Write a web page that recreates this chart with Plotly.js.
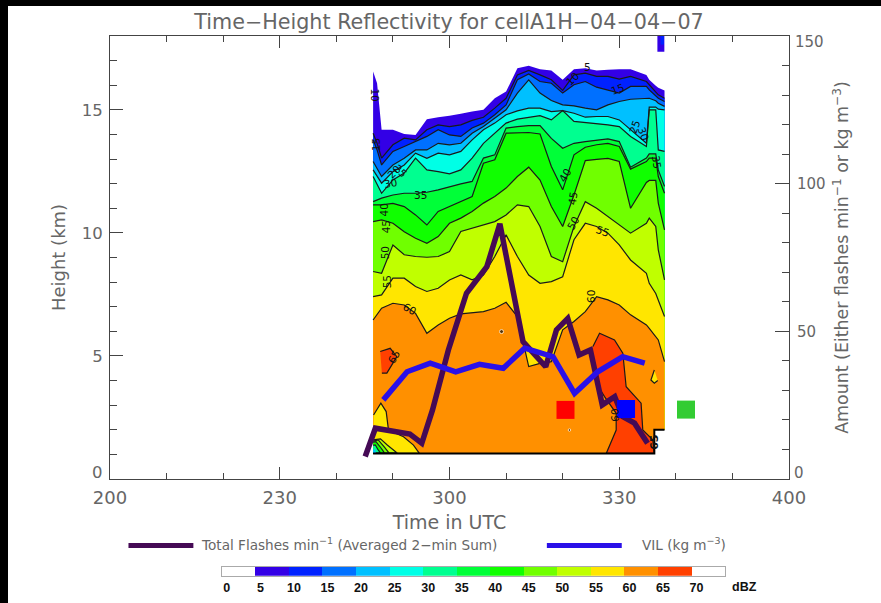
<!DOCTYPE html>
<html>
<head>
<meta charset="utf-8">
<script src="https://cdn.plot.ly/plotly-3.0.1.min.js"></script>
<style>
html,body{margin:0;padding:0;background:#fff;overflow:hidden}
#chart{position:absolute;left:0;top:0;width:881px;height:603px}
.strip{position:absolute;background:#000;z-index:5}
</style>
</head>
<body>
<div id="chart"></div>
<div class="strip" style="left:0;top:0;width:881px;height:5.5px"></div>
<div class="strip" style="left:0;top:0;width:8px;height:603px"></div>
<script>
// Time axis: minutes after 2:00 UTC
const xTickVals = [0, 30, 60, 90, 120];
const xTickText = ['200', '230', '300', '330', '400'];
const leftTickVals = [5, 10, 15];
const rightTickVals = [50, 100];

// Contour heights (km) of each reflectivity level at each scan time
const scanTimes = [46.5,47.2,48,50,52,54,56,58,60,62,64,66,68,70,72,74,76,78,80,82,84,86,88,90,92,94.8,95.3,96.45,96.9,98];
const dbz5  = [16.56,16.08,14.19,14.19,14.02,13.98,14.62,14.70,14.76,14.84,14.93,15.00,15.47,15.74,16.69,16.79,16.65,16.60,16.22,16.65,16.69,16.60,16.63,16.65,16.65,16.42,16.22,15.98,15.90,15.79];
const dbz10 = [14.05,13.64,13.04,13.58,13.85,13.78,14.19,14.39,14.32,14.39,14.57,14.70,15.07,15.47,16.42,16.60,16.42,16.22,15.79,16.42,16.49,16.36,16.36,16.25,16.36,16.15,16.02,15.70,15.61,15.47];
const dbz15 = [13.78,13.37,12.76,13.31,13.51,13.71,13.92,14.19,13.98,13.92,14.26,14.46,14.80,15.20,16.22,16.46,16.15,16.08,15.68,16.02,16.15,15.92,15.81,15.68,15.95,15.95,15.81,15.57,15.47,15.34];
const dbz20 = [12.90,12.63,12.29,12.76,13.03,13.37,13.37,13.64,13.58,13.64,14.05,14.32,14.66,15.00,15.68,16.22,15.68,15.38,15.20,15.16,15.07,15.00,15.20,15.34,15.43,15.47,15.47,15.37,15.27,15.14];
const dbz25 = [12.56,12.29,12.02,12.49,12.76,13.24,13.03,13.24,13.17,13.31,13.78,14.19,14.46,14.80,14.96,15.07,15.07,14.93,14.97,14.86,14.70,14.73,14.73,14.59,14.19,13.64,15.11,15.11,15.03,15.00];
const dbz30 = [12.29,11.95,11.61,12.15,12.43,13.04,12.56,12.49,12.40,12.56,13.04,13.64,14.05,14.46,14.62,14.70,14.76,14.59,14.97,14.53,14.49,14.46,14.39,14.32,13.92,13.51,15.00,15.00,13.37,13.31];
const dbz35 = [11.27,11.34,11.41,11.54,11.61,11.61,11.65,11.75,11.88,11.99,12.09,13.04,13.17,14.26,14.32,14.36,14.36,13.84,13.44,13.64,13.71,13.78,13.82,13.71,12.67,13.04,13.21,13.21,12.56,11.89];
const dbz40 = [11.14,11.14,11.14,11.20,11.07,10.73,10.32,10.87,11.07,11.27,11.48,12.83,12.97,14.05,14.08,14.08,14.02,12.70,11.75,13.17,13.48,13.58,13.64,13.51,12.59,12.90,13.04,13.04,12.29,11.61];
const dbz45 = [10.46,10.50,10.53,10.39,10.05,9.78,9.58,9.85,10.39,10.60,10.87,11.21,11.48,11.82,12.29,12.67,12.15,11.07,10.26,11.54,12.94,12.99,13.03,12.90,11.00,12.05,12.13,12.13,11.21,10.12];
const dbz50 = [8.43,8.40,8.36,9.51,9.11,9.04,9.01,9.04,9.24,10.06,10.19,10.33,10.46,10.73,11.14,11.07,10.26,9.04,8.83,10.26,11.27,11.00,10.66,10.33,9.99,10.39,10.60,10.26,9.31,8.09];
const dbz55 = [7.41,7.45,7.48,8.16,8.16,7.82,7.62,7.75,8.09,8.29,8.09,8.29,9.04,9.92,9.04,8.29,7.95,8.02,8.22,9.72,10.39,10.26,9.99,9.51,8.90,8.36,7.95,7.54,7.28,6.60];
const dbz60 = [6.46,6.71,6.94,7.14,7.07,6.73,5.92,6.26,6.53,6.71,6.76,6.80,6.94,7.18,6.60,4.57,4.70,4.77,6.06,6.40,6.80,7.41,7.28,7.07,6.67,6.26,6.12,5.79,5.65,4.77];

// Echo base, right to left
const baseTimes = [98, 96.2, 96.2, 46.5];
const baseHeights = [2.0, 2.0, 1.04, 1.04];

// Closed contours (time, height)
const core65Times = [85.35,86.52,89.16,90.63,91.22,93.86,94.16,95.92,96.21,87.70,89.46,89.46,87.40,85.93,85.05];
const core65Heights = [5.38,5.92,5.65,5.11,3.75,3.08,1.99,1.59,1.04,1.04,1.99,2.67,3.35,3.89,5.11];
const blob65Times = [47.75,49.52,50.69,48.93,48.05];
const blob65Heights = [5.18,5.31,4.97,4.30,4.30];
const drop55Times = [96.2,95.6,96.2,96.8];
const drop55Heights = [4.43,4.02,3.89,4.00];
const low55Times = [46.58,47.87,48.81,49.22,51.87,53.63,54.68,46.58];
const low55Heights = [2.60,3.08,2.74,1.99,1.72,1.38,1.04,1.04];
const low50Times = [46.5,47.8,49.0,50.75,46.5];
const low50Heights = [1.59,1.63,1.38,1.06,1.06];
const low45Times = [46.5,47.4,48.5,49.3,46.5];
const low45Heights = [1.54,1.59,1.30,1.06,1.06];
const low40Times = [46.5,47.0,47.9,48.5,46.5];
const low40Heights = [1.50,1.52,1.26,1.06,1.06];
const low30Times = [46.5,46.9,47.4,47.8,46.5];
const low30Heights = [1.38,1.38,1.18,1.06,1.06];
const low20Times = [46.5,46.9,47.0,46.5];
const low20Heights = [1.22,1.18,1.06,1.06];
const topSliverTimes = [96.74,97.97,97.97,96.74];
const topSliverHeights = [17.36,17.36,18,18];
const topInnerTimes = [97.3,97.9,97.9,97.3];
const topInnerHeights = [17.65,17.65,18,18];
const specTimes = [69.2, 81.2];
const specHeights = [5.99, 1.99];
const specSizes = [4, 2.5];

// Flash rate and VIL (right axis)
const flashTimes = [45.1,46.9,53.0,55.1,57.0,59.8,63.0,66.6,68.9,69.5,73.0,77.0,78.9,80.9,82.9,84.9,87.0,89.2,90.6,92.7,95.0];
const flashValues = [7.6,17.2,15.2,12.1,23.4,43.7,62.9,71.9,86.4,80.9,46.5,38.0,50.5,54.4,42.0,43.7,25.1,27.9,21.1,18.9,12.1];
const vilTimes = [48.3,52.5,56.6,61.1,65.3,69.5,73.3,78.3,82.1,86.2,90.6,94.5];
const vilValues = [26.8,36.3,39.2,36.3,38.8,37.5,44.3,41.4,29.0,36.3,41.4,39.2];

// Square markers
const squareTimes = [80.5, 91.2, 101.8];
const squareValues = [23.4, 23.7, 23.5];
const squareColors = ['#ff0000', '#0000ff', '#33cc33'];

// Contour labels
const labelText = ['5','10','15','10','15','20','25','30','35','25','30','35','40','45','50','55','40','45','50','55','60','65','60','60','<b>65</b>'];
const labelTimes = [84.3,81.7,89.7,46.9,46.9,50.1,51.4,49.6,54.8,92.7,94.2,96.7,80.4,81.8,81.8,87.1,48.5,48.8,48.6,48.9,53.0,50.1,84.9,89.2,96.1];
const labelHeights = [16.76,16.25,15.84,15.61,13.58,12.49,12.53,12.02,11.54,14.30,14.05,12.90,12.36,11.41,10.42,10.09,10.93,10.23,9.17,8.02,6.91,4.97,7.41,2.60,1.50];
const labelAngles = [0,-45,-20,90,-90,-45,45,-10,0,-70,70,80,-60,-80,-60,20,-90,-90,-90,-90,30,-60,-90,-90,-90];

// Colour scale
const scaleLevels = [0,5,10,15,20,25,30,35,40,45,50,55,60,65,70];
const scaleColors = ['#ffffff','#3300e6','#0022ff','#0070ff','#00c0ff','#00ffe6','#00ff90','#00ff38','#10ff00','#70ff00','#c0ff00','#ffe600','#ff9000','#ff4000','#ffffff'];

const titleText = 'Time\u2212Height Reflectivity for cellA1H\u221204\u221204\u221207';
const inkColor = '#666666';
const fontName = '"DejaVu Sans", sans-serif';
const lineBlack = '#1a1a1a';

const profiles = [dbz5,dbz10,dbz15,dbz20,dbz25,dbz30,dbz35,dbz40,dbz45,dbz50,dbz55,dbz60];
const traces = [];
function poly(x, y, color, outline) {
  traces.push({type:'scatter', mode: outline ? 'lines' : 'none', x:x, y:y, fill:'toself', fillcolor:color,
    line:{color:lineBlack, width: outline ? 1.2 : 0}, hoverinfo:'skip', showlegend:false, xaxis:'x', yaxis:'y'});
}
profiles.forEach((p, i) => poly(scanTimes.concat(baseTimes), p.concat(baseHeights), scaleColors[i + 1], false));
profiles.forEach((p, i) => {
  if (i === 0) return;
  traces.push({type:'scatter', mode:'lines', x:scanTimes, y:p, line:{color:lineBlack, width:1.2},
    hoverinfo:'skip', showlegend:false, xaxis:'x', yaxis:'y'});
});
poly(low55Times, low55Heights, scaleColors[11], true);
poly(low50Times, low50Heights, scaleColors[10], true);
poly(low45Times, low45Heights, scaleColors[9], true);
poly(low40Times, low40Heights, scaleColors[8], true);
poly(low30Times, low30Heights, scaleColors[6], true);
poly(low20Times, low20Heights, scaleColors[4], false);
poly(core65Times, core65Heights, scaleColors[13], true);
poly(blob65Times, blob65Heights, scaleColors[13], true);
poly(drop55Times, drop55Heights, scaleColors[11], true);
poly(topSliverTimes, topSliverHeights, scaleColors[1], false);
poly(topInnerTimes, topInnerHeights, scaleColors[2], false);
traces.push({type:'scatter', mode:'markers', x:specTimes, y:specHeights, marker:{color:'#111', size:specSizes},
  hoverinfo:'skip', showlegend:false, xaxis:'x', yaxis:'y'});
traces.push({type:'scatter', mode:'lines', x:[scanTimes[0], baseTimes[3], baseTimes[2], baseTimes[1], baseTimes[0]],
  y:[baseHeights[3], baseHeights[3], baseHeights[2], baseHeights[1], baseHeights[0]],
  line:{color:'#000', width:2}, hoverinfo:'skip', showlegend:false, xaxis:'x', yaxis:'y'});

traces.push({type:'scatter', mode:'lines', name:'Total Flashes', x:flashTimes, y:flashValues,
  line:{color:'#450a55', width:5.5, join:'miter'}, hoverinfo:'skip', showlegend:false, xaxis:'x', yaxis:'y2'});
traces.push({type:'scatter', mode:'lines', name:'VIL', x:vilTimes, y:vilValues,
  line:{color:'#2a10e8', width:5.5, join:'miter'}, hoverinfo:'skip', showlegend:false, xaxis:'x', yaxis:'y2'});
traces.push({type:'scatter', mode:'markers', x:squareTimes, y:squareValues,
  marker:{symbol:'square', size:18, color:squareColors, line:{width:0}}, hoverinfo:'skip', showlegend:false, xaxis:'x', yaxis:'y2'});

// Colour scale cells
traces.push({type:'bar', x:scaleLevels.map(v => v + 2.5), y:scaleLevels.map(() => 1), width:5,
  marker:{color:scaleColors, line:{width:0}}, hoverinfo:'skip', showlegend:false, xaxis:'x2', yaxis:'y3'});

// Pixel helpers for page furniture (not data)
const L = 109.5, R = 881 - 789.5, T = 36, B = 13, W = 881 - L - R, H = 603 - T - B;
const fx = px => (px - L) / W;
const fy = py => (603 - B - py) / H;

const annotations = labelText.map((t, i) => ({
  text:t, x:labelTimes[i], y:labelHeights[i], xref:'x', yref:'y', showarrow:false, textangle:labelAngles[i],
  font:{family:fontName, size: i === labelText.length - 1 ? 11 : 10.5, color:'#111'}
}));
function note(text, px, py, size, anchor, color, family) {
  annotations.push({text:text, x:fx(px), y:fy(py), xref:'paper', yref:'paper', showarrow:false, xanchor:anchor, yanchor:'middle',
    font:{family:family || fontName, size:size, color:color || inkColor}});
}
note('Total Flashes min<sup>\u22121</sup> (Averaged 2\u2212min Sum)', 199, 544, 13.6, 'left');
note('VIL (kg m<sup>\u22123</sup>)', 640, 544, 13.6, 'left');
note('<b>dBZ</b>', 730, 587, 12.5, 'left', '#111', '"Liberation Sans", sans-serif');
note('0', 104, 472.5, 16.5, 'right');
note('0', 793, 473, 15, 'left');
note('150', 794, 42.5, 15, 'left');

const shapes = [
  {type:'line', xref:'paper', yref:'paper', x0:fx(128), x1:fx(193), y0:fy(545.5), y1:fy(545.5), line:{color:'#450a55', width:5}},
  {type:'line', xref:'paper', yref:'paper', x0:fx(547), x1:fx(622), y0:fy(545.5), y1:fy(545.5), line:{color:'#2a10e8', width:5}}
];

const axisBase = {showgrid:false, zeroline:false, showline:true, linecolor:'#444', linewidth:1, ticks:'inside', tickcolor:'#444'};
const layout = {
  width:881, height:603, margin:{l:L, r:R, t:T, b:B, pad:0}, paper_bgcolor:'#fff', plot_bgcolor:'#fff', showlegend:false,
  title:{text:titleText, x:449/881, xref:'container', xanchor:'center', y:1-21.5/603, yref:'container', yanchor:'middle',
    font:{family:fontName, size:20.7, color:inkColor}},
  xaxis:Object.assign({}, axisBase, {domain:[0,1], range:[0,120], tickvals:xTickVals, ticktext:xTickText, ticklen:12, mirror:'ticks',
    minor:{tickvals:[10,20,40,50,70,80,100,110], ticks:'inside', ticklen:6, tickcolor:'#444', showgrid:false}, ticklabelstandoff:2,
    tickfont:{family:fontName, size:18, color:inkColor}, title:{text:'Time in UTC', standoff:9, font:{family:fontName, size:19, color:inkColor}}, anchor:'y'}),
  yaxis:Object.assign({}, axisBase, {domain:[(603-B-479)/H,1], range:[0,18], tickvals:leftTickVals, ticklen:13, ticklabelstandoff:3,
    minor:{dtick:1, ticks:'inside', ticklen:7, tickcolor:'#444', showgrid:false},
    tickfont:{family:fontName, size:16.5, color:inkColor}, title:{text:'Height (km)', standoff:11, font:{family:fontName, size:18, color:inkColor}}, anchor:'x'}),
  yaxis2:Object.assign({}, axisBase, {domain:[(603-B-479)/H,1], range:[0,150], overlaying:'y', side:'right', anchor:'x', tickvals:rightTickVals, ticklen:14, ticklabelstandoff:4,
    minor:{dtick:10, ticks:'inside', ticklen:7, tickcolor:'#444', showgrid:false},
    tickfont:{family:fontName, size:15, color:inkColor}, title:{text:'Amount (Either flashes min<sup>\u22121</sup> or kg m<sup>\u22123</sup>)', standoff:11, font:{family:fontName, size:17.4, color:inkColor}}}),
  xaxis2:{domain:[fx(221.5), fx(725.5)], range:[0,75], anchor:'y3', showgrid:false, zeroline:false, showline:true, linecolor:'#aaa', mirror:true,
    tickvals:scaleLevels, ticks:'', ticklabelshift:5, tickfont:{family:'"Liberation Sans", sans-serif', size:12.5, color:'#111', weight:'bold'}},
  yaxis3:{domain:[fy(575.7), fy(566.7)], range:[0,1], anchor:'x2', showgrid:false, zeroline:false, showline:true, linecolor:'#aaa', mirror:true, showticklabels:false, ticks:''},
  bargap:0, annotations:annotations, shapes:shapes, hovermode:false
};
Plotly.newPlot('chart', traces, layout, {displayModeBar:false, staticPlot:true});
</script>
</body>
</html>
